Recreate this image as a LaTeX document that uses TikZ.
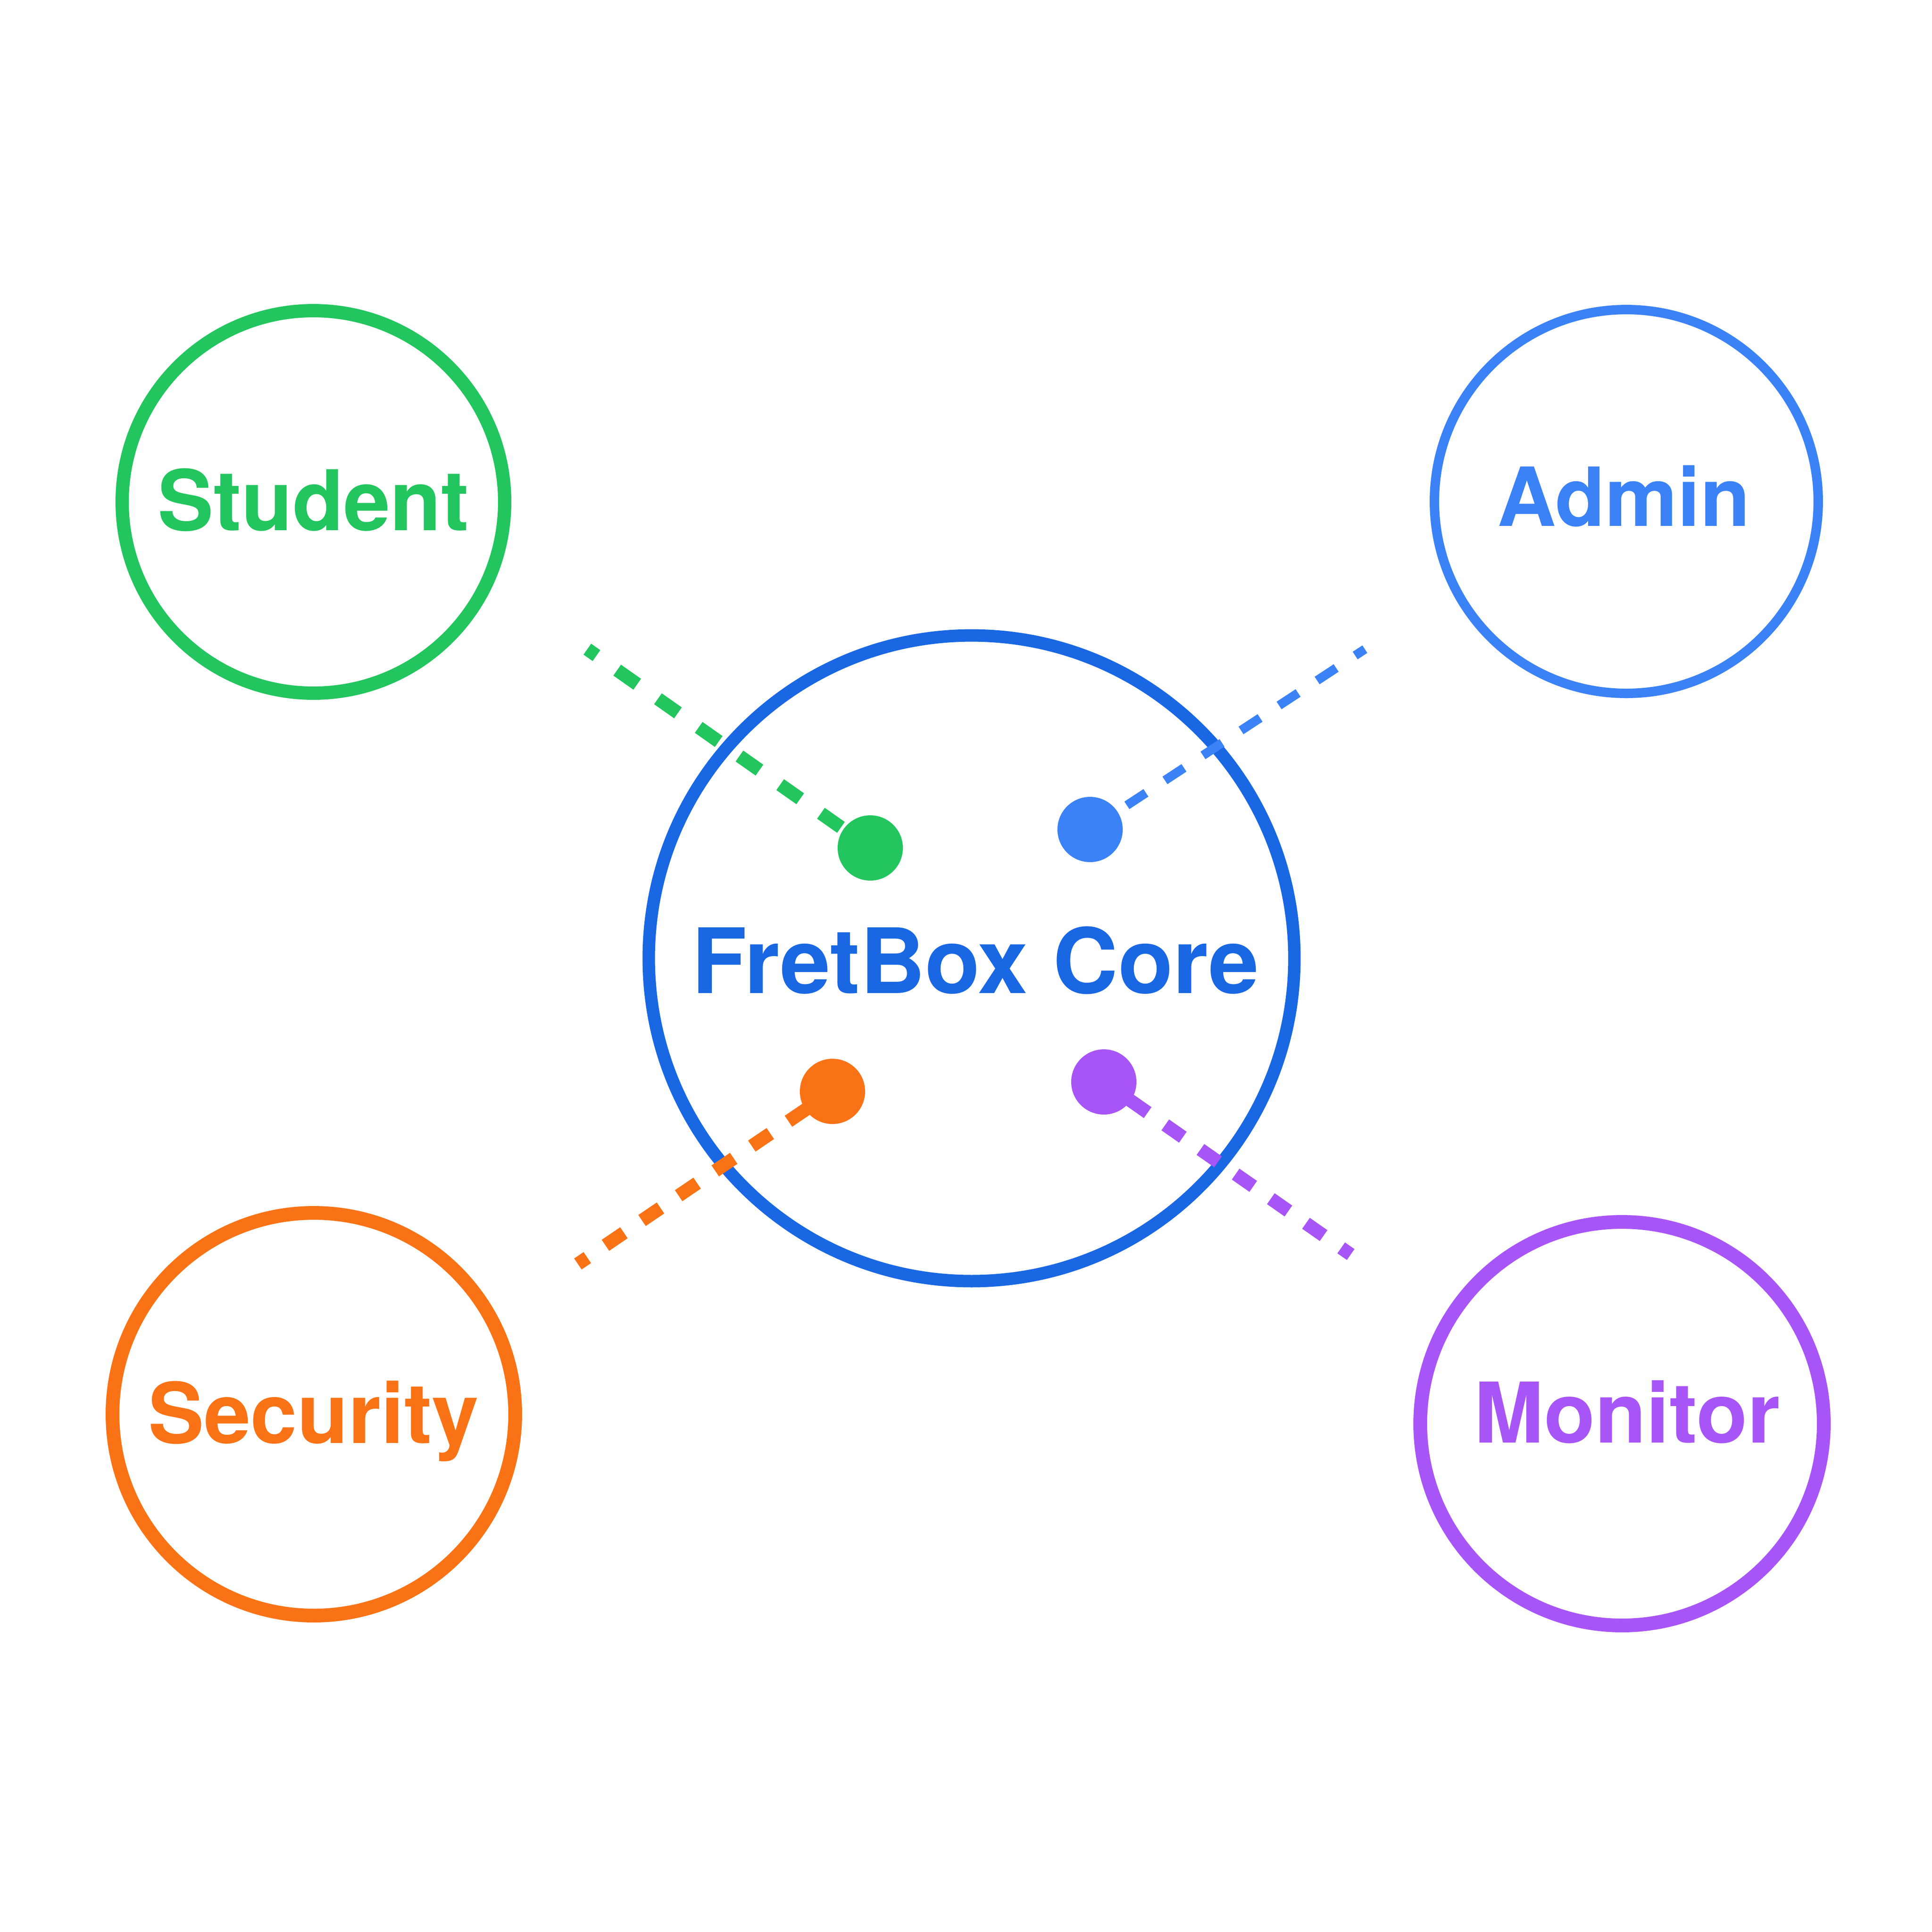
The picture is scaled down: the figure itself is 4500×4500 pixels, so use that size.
\documentclass[tikz,border=0pt]{standalone}
\usepackage{fontspec}
\setmainfont{TeX Gyre Heros}
\usetikzlibrary{backgrounds}

\definecolor{studentgreen}{HTML}{22C55E}
\definecolor{adminblue}{HTML}{3B82F6}
\definecolor{coreblue}{HTML}{1967E3}
\definecolor{securityorange}{HTML}{F97316}
\definecolor{monitorpurple}{HTML}{A855F7}

\tikzset{
  ring/.style={circle, draw, inner sep=0pt, minimum size=#1},
  hub/.style={circle, fill, inner sep=0pt, minimum size=15.2pt},
  link/.style={line width=3.1pt},
  lbl/.style={anchor=base, inner sep=0pt, font=\bfseries\fontsize{19.5}{20}\selectfont}
}

\begin{document}
\begin{tikzpicture}[x=0.1pt,y=0.1pt,yscale=-1,xscale=1]

\node [ring=89.1pt, draw=studentgreen, line width=3.1pt] (student) at (730,1169) {};
\node [ring=89.4pt, draw=adminblue, line width=2.2pt] (admin) at (3788,1168) {};
\node [ring=93.8pt, draw=securityorange, line width=3.2pt] (security) at (731,3294) {};
\node [ring=94pt, draw=monitorpurple, line width=3.2pt] (monitor) at (3778,3316) {};

\node [hub, fill=studentgreen] (studentdot) at (2027,1975) {};
\node [hub, fill=adminblue] (admindot) at (2539,1932) {};
\node [hub, fill=securityorange] (securitydot) at (1939,2542) {};
\node [hub, fill=monitorpurple] (monitordot) at (2571,2520) {};

\coordinate (studentend) at (1368,1512);
\coordinate (adminend) at (3179,1512);
\coordinate (securityend) at (1346,2944);
\coordinate (monitorend) at (3146,2922);

\begin{pgfonlayer}{background}
\fill [white] (0,0) rectangle (4500,4500);
\node [ring=150.4pt, draw=coreblue, line width=2.9pt] (core) at (2263,2232) {};
\draw [link, draw=studentgreen, dash pattern=on 5.7pt off 5.9pt, dash phase=3.1pt] (studentend) -- (studentdot.center);
\draw [link, draw=adminblue, line width=2.1pt, dash pattern=on 5.3pt off 5.3pt, dash phase=2.6pt] (adminend) -- (admindot.center);
\draw [link, draw=securityorange, dash pattern=on 5.2pt off 5.1pt, dash phase=2.55pt] (securityend) -- (securitydot.center);
\draw [link, draw=monitorpurple, dash pattern=on 5pt off 5pt, dash phase=2.3pt] (monitorend) -- (monitordot.center);
\end{pgfonlayer}

\node [lbl, text=studentgreen] (studentlabel) at (730,1235) {Student};
\node [lbl, text=adminblue, font=\bfseries\fontsize{19}{20}\selectfont] (adminlabel) at (3782,1225) {Admin};
\node [lbl, text=securityorange] (securitylabel) at (730,3361) {Security};
\node [lbl, text=monitorpurple] (monitorlabel) at (3790,3360) {Monitor};
\node [lbl, text=coreblue, font=\bfseries\fontsize{21}{22}\selectfont] (corelabel) at (2272,2313) {FretBox Core};

\end{tikzpicture}
\end{document}
